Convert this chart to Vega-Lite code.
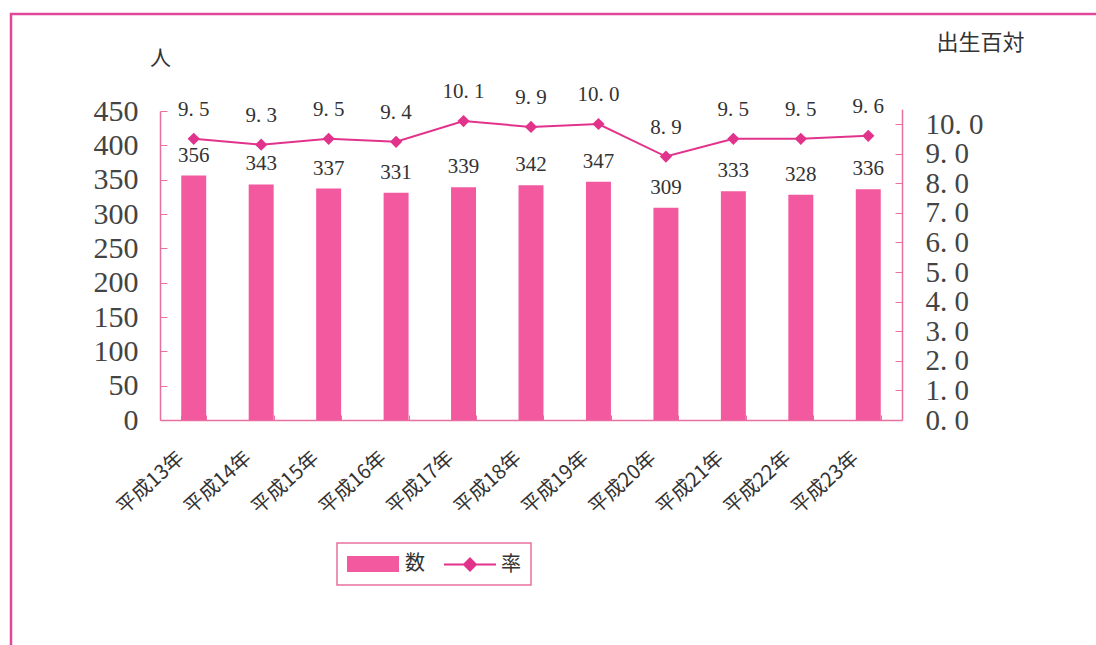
{
  "$schema": "https://vega.github.io/schema/vega-lite/v6.json",
  "width": 1100,
  "height": 650,
  "autosize": {"type": "none"},
  "padding": {"left": 11, "top": 14, "right": 0, "bottom": 0},
  "background": "white",
  "config": {
    "view": {"stroke": "#E0479A", "strokeWidth": 2.5},
    "font": "Liberation Serif",
    "axis": {"grid": false}
  },
  "data": {
    "values": [
      {"year": "平成13年", "count": 356, "rate": 9.5},
      {"year": "平成14年", "count": 343, "rate": 9.3},
      {"year": "平成15年", "count": 337, "rate": 9.5},
      {"year": "平成16年", "count": 331, "rate": 9.4},
      {"year": "平成17年", "count": 339, "rate": 10.1},
      {"year": "平成18年", "count": 342, "rate": 9.9},
      {"year": "平成19年", "count": 347, "rate": 10.0},
      {"year": "平成20年", "count": 309, "rate": 8.9},
      {"year": "平成21年", "count": 333, "rate": 9.5},
      {"year": "平成22年", "count": 328, "rate": 9.5},
      {"year": "平成23年", "count": 336, "rate": 9.6}
    ]
  },
  "encoding": {
    "x": {
      "field": "year",
      "type": "nominal",
      "sort": null,
      "scale": {"range": [149, 891], "paddingInner": 0.63, "paddingOuter": 0.315},
      "axis": {
        "title": null,
        "orient": "bottom",
        "offset": -244,
        "domainColor": "#E8709F",
        "domainWidth": 1.5,
        "tickColor": "#E8709F",
        "tickWidth": 1,
        "tickSize": -5,
        "tickBand": "extent",
        "labelAngle": -42,
        "labelAlign": "right",
        "labelBaseline": "middle",
        "labelFont": "Noto Sans CJK JP",
        "labelFontSize": 20,
        "labelColor": "#333333",
        "labelPadding": 40,
        "labelOffset": -13,
        "labelOverlap": false,
        "labelBound": false
      }
    }
  },
  "layer": [
    {
      "encoding": {
        "y": {
          "field": "count",
          "type": "quantitative",
          "scale": {"domain": [0, 450], "range": [406, 97], "nice": false},
          "axis": {
            "title": "人",
            "orient": "left",
            "offset": -149,
            "values": [0, 50, 100, 150, 200, 250, 300, 350, 400, 450],
            "domainColor": "#E8709F",
            "domainWidth": 1.5,
            "tickColor": "#E8709F",
            "tickSize": -7,
            "labelPadding": 29,
            "labelFont": "Liberation Serif",
            "labelFontSize": 30,
            "labelColor": "#444444",
            "labelBaseline": "middle",
            "labelOverlap": false,
            "labelBound": false,
            "titleAngle": 0,
            "titleX": 0,
            "titleY": 44,
            "titleAlign": "center",
            "titleBaseline": "middle",
            "titleFont": "Noto Sans CJK JP",
            "titleFontSize": 21,
            "titleFontWeight": "normal",
            "titleColor": "#333333"
          }
        }
      },
      "layer": [
        {
          "mark": {"type": "bar", "color": "#F2599F"},
          "encoding": {
            "color": {
              "datum": "数",
              "scale": {"domain": ["数", "率"], "range": ["#F2599F", "#E2338C"]},
              "legend": {
                "title": null,
                "orient": "none",
                "legendX": 326,
                "legendY": 529,
                "direction": "horizontal",
                "strokeColor": "#E8709F",
                "padding": 10,
                "symbolSize": 400,
                "labelFont": "Noto Sans CJK JP",
                "labelFontSize": 20,
                "labelColor": "#333333",
                "labelOffset": 36,
                "columnPadding": 15,
                "encode": {
                  "legend": {"update": {"stroke": {"value": "#E8709F"}, "strokeWidth": {"value": 1.5}}},
                  "symbols": {
                    "update": {
                      "shape": {"signal": "datum.value === '数' ? 'M-1,-0.7H4V0.7H-1Z' : 'M-1,0H4.2M1.6,-0.6L2.2,0L1.6,0.6L1,0Z'"},
                      "fill": {"signal": "datum.value === '数' ? '#F2599F' : '#E2338C'"},
                      "stroke": {"signal": "datum.value === '数' ? '#F2599F' : '#E2338C'"},
                      "strokeWidth": {"value": 2},
                      "opacity": {"value": 1}
                    }
                  }
                }
              }
            }
          }
        },
        {
          "mark": {"type": "text", "font": "Liberation Serif", "fontSize": 21, "color": "#333333", "baseline": "middle", "dy": -20},
          "encoding": {"text": {"field": "count", "type": "quantitative"}}
        }
      ]
    },
    {
      "encoding": {
        "y": {
          "field": "rate",
          "type": "quantitative",
          "scale": {"domain": [0, 10.5], "range": [406, 95.2], "nice": false},
          "axis": {
            "title": "出生百対",
            "orient": "right",
            "offset": -209,
            "values": [0, 1, 2, 3, 4, 5, 6, 7, 8, 9, 10],
            "labelExpr": "replace(format(datum.value, '.1f'), '.', '. ')",
            "domainColor": "#E8709F",
            "domainWidth": 1.5,
            "tickColor": "#E8709F",
            "tickSize": -7,
            "labelPadding": 30,
            "labelFont": "Liberation Serif",
            "labelFontSize": 29,
            "labelColor": "#444444",
            "labelBaseline": "middle",
            "labelOverlap": false,
            "labelBound": false,
            "titleAngle": 0,
            "titleX": 78,
            "titleY": 28,
            "titleAlign": "center",
            "titleBaseline": "middle",
            "titleFont": "Noto Sans CJK JP",
            "titleFontSize": 22,
            "titleFontWeight": "normal",
            "titleColor": "#333333"
          }
        }
      },
      "layer": [
        {
          "mark": {"type": "line", "strokeWidth": 2, "point": {"shape": "diamond", "size": 150, "filled": true}},
          "encoding": {"color": {"datum": "率"}}
        },
        {
          "mark": {"type": "text", "font": "Liberation Serif", "fontSize": 21, "color": "#333333", "baseline": "middle", "dy": -29, "text": {"expr": "replace(format(datum.rate, '.1f'), '.', '. ')"}},
          "encoding": {}
        }
      ]
    }
  ],
  "resolve": {"scale": {"y": "independent"}, "axis": {"y": "independent"}}
}
